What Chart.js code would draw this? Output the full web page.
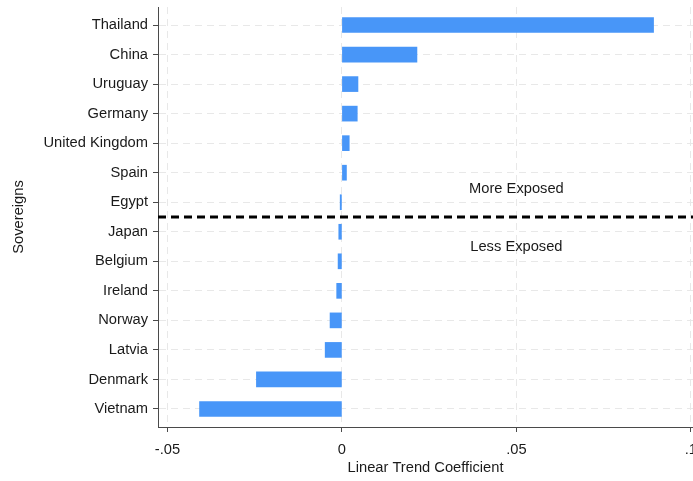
<!DOCTYPE html>
<html>
<head>
<meta charset="utf-8">
<script src="https://cdn.jsdelivr.net/npm/chart.js@4/dist/chart.umd.min.js"></script>
<style>
  html, body { margin: 0; padding: 0; background: #ffffff; overflow: hidden; width: 693px; height: 481px; }
  #wrap { width: 710px; height: 481px; }
</style>
</head>
<body>
<div id="wrap"><canvas id="c" width="710" height="481"></canvas></div>
<script>
// ---- data ----
const categories = ["Thailand", "China", "Uruguay", "Germany", "United Kingdom", "Spain", "Egypt",
                    "Japan", "Belgium", "Ireland", "Norway", "Latvia", "Denmark", "Vietnam"];
const trendCoefficients = [0.0893, 0.0215, 0.0046, 0.0044, 0.0021, 0.0013, -0.0005,
                           -0.0009, -0.0011, -0.0015, -0.0034, -0.0048, -0.0245, -0.0408];
const xTickValues = [-0.05, 0, 0.05, 0.1];
const xTickLabels = ["-.05", "0", ".05", ".1"];
const xTitle = "Linear Trend Coefficient";
const yTitle = "Sovereigns";
const dividerPosition = 6.5;   // between Egypt and Japan
const groupLabels = ["More Exposed", "Less Exposed"];
const groupLabelX = [0.05, 0.05];
const groupLabelY = [5.55, 7.53];

// ---- styles ----
const FONT = "'Liberation Sans', Arial, Helvetica, sans-serif";
const FS = 14.7;
const barColor = "#4896f8";
const gridColor = "#e8e8e8";
const axisColor = "#4a4a4a";
const textColor = "#1a1a1a";

const overlayPlugin = {
  id: "overlay",
  afterDatasetsDraw(chart) {
    const {ctx, chartArea, scales} = chart;
    const y = scales.y.getPixelForValue(dividerPosition);
    ctx.save();
    ctx.strokeStyle = "#000000";
    ctx.lineWidth = 3;
    ctx.setLineDash([8, 5]);
    ctx.beginPath();
    ctx.moveTo(chartArea.left, y);
    ctx.lineTo(chartArea.right, y);
    ctx.stroke();
    ctx.setLineDash([]);
    ctx.fillStyle = textColor;
    ctx.font = FS + "px " + FONT;
    ctx.textAlign = "center";
    ctx.textBaseline = "middle";
    groupLabels.forEach((t, i) => {
      ctx.fillText(t, scales.x.getPixelForValue(groupLabelX[i]), scales.y.getPixelForValue(groupLabelY[i]));
    });
    ctx.restore();
  }
};

new Chart(document.getElementById("c"), {
  type: "bar",
  data: {
    datasets: [{
      data: trendCoefficients.map((v, i) => ({ x: v, y: i })),
      backgroundColor: barColor,
      borderWidth: 0,
      barThickness: 15
    }]
  },
  options: {
    indexAxis: "y",
    responsive: false,
    animation: false,
    devicePixelRatio: 1,
    layout: { padding: { top: 7, right: 17, bottom: 0, left: 0 } },
    plugins: { legend: { display: false }, tooltip: { enabled: false } },
    scales: {
      x: {
        type: "linear",
        position: "bottom",
        offset: false,
        min: -0.0527,
        max: 0.1006,
        afterBuildTicks: (s) => { s.ticks = xTickValues.map(v => ({ value: v })); },
        afterFit: (s) => { s.height = 54; s.paddingLeft = 0; s.paddingRight = 0; },
        ticks: {
          autoSkip: false,
          maxRotation: 0,
          padding: 9,
          color: textColor,
          font: { family: FONT, size: FS },
          callback: (v, i) => xTickLabels[i]
        },
        grid: { offset: false, color: gridColor, lineWidth: 1, tickColor: axisColor, tickLength: 5, tickWidth: 1 },
        border: { display: true, color: axisColor, width: 1, dash: [7, 5] },
        title: {
          display: true, text: xTitle, color: textColor,
          font: { family: FONT, size: FS }, padding: { top: 0, bottom: 4 }
        }
      },
      y: {
        type: "linear",
        position: "left",
        offset: false,
        reverse: true,
        min: -0.61,
        max: 13.61,
        afterBuildTicks: (s) => { s.ticks = categories.map((c, i) => ({ value: i })); },
        afterFit: (s) => { s.width = 158; s.paddingTop = 0; s.paddingBottom = 0; },
        ticks: {
          autoSkip: false,
          padding: 5,
          color: textColor,
          font: { family: FONT, size: FS },
          callback: (v, i) => categories[i]
        },
        grid: { offset: false, color: gridColor, lineWidth: 1, tickColor: axisColor, tickLength: 5, tickWidth: 1 },
        border: { display: true, color: axisColor, width: 1, dash: [7, 5] },
        title: {
          display: true, text: yTitle, color: textColor,
          font: { family: FONT, size: FS }, padding: { top: 10, bottom: 0 }
        }
      }
    }
  },
  plugins: [overlayPlugin]
});
</script>
</body>
</html>
